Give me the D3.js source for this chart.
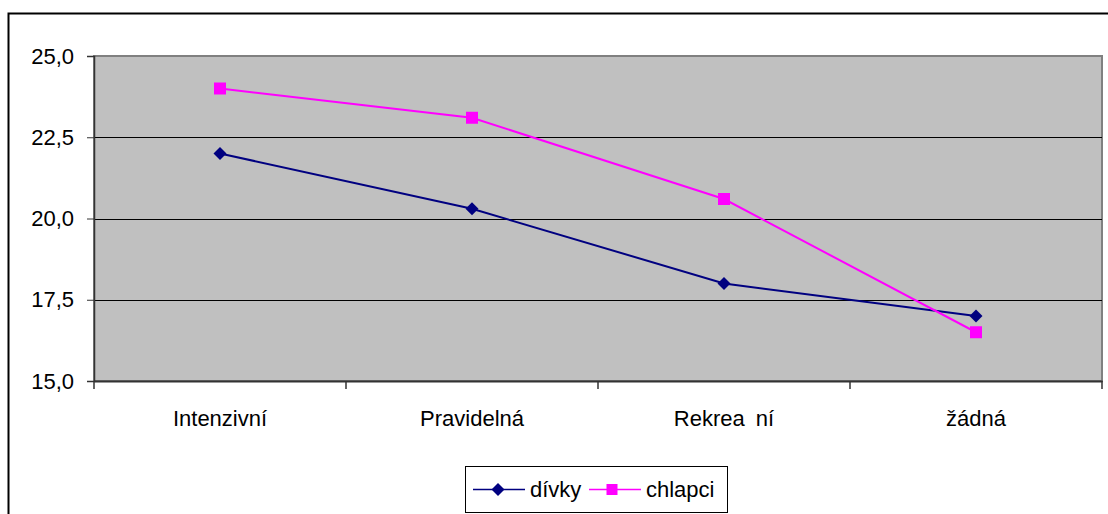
<!DOCTYPE html>
<html>
<head>
<meta charset="utf-8">
<script src="https://cdn.jsdelivr.net/npm/d3@7"></script>
<style>
  html, body { margin: 0; padding: 0; background: #fff; }
  svg { display: block; font-family: "Liberation Sans", Arial, sans-serif; }
</style>
</head>
<body>
<svg id="chart" width="1108" height="514"></svg>
<script>
// Kategorie pohybové aktivity a průměrné hodnoty
const categories = ["Intenzivní", "Pravidelná", "Rekrea\u2002ní", "žádná"];
const divky = [22.0, 20.3, 18.0, 17.0];
const chlapci = [24.0, 23.1, 20.6, 16.5];
const yTicks = [15, 17.5, 20, 22.5, 25];
const seriesNames = ["dívky", "chlapci"];

const FONT = "Liberation Sans, Arial, sans-serif";
const FS = 22;

const svg = d3.select("#chart");

// Vnější rámeček grafu
svg.append("rect")
  .attr("x", 8.5).attr("y", 13.5)
  .attr("width", 1120).attr("height", 520)
  .attr("fill", "#fff").attr("stroke", "#000").attr("stroke-width", 2);

const plot = { left: 94, right: 1102, top: 56, bottom: 381 };

const x = d3.scaleBand().domain(categories).range([plot.left, plot.right]).padding(0);
const y = d3.scaleLinear().domain([15, 25]).range([plot.bottom, plot.top]);
const fmt = v => d3.format(".1f")(v).replace(".", ",");

// Šedá plocha grafu
svg.append("rect")
  .attr("x", plot.left).attr("y", plot.top)
  .attr("width", plot.right - plot.left).attr("height", plot.bottom - plot.top)
  .attr("fill", "#c0c0c0").attr("stroke", "#808080").attr("stroke-width", 2);

// Vodorovné mřížky
svg.append("g").selectAll("line")
  .data(yTicks.filter(t => t > 15 && t < 25))
  .join("line")
  .attr("x1", plot.left).attr("x2", plot.right)
  .attr("y1", d => Math.round(y(d)) + 0.5).attr("y2", d => Math.round(y(d)) + 0.5)
  .attr("stroke", "#000").attr("stroke-width", 1);

// Osa Y
const yAxis = svg.append("g")
  .attr("transform", `translate(${plot.left},0)`)
  .call(d3.axisLeft(y).tickValues(yTicks).tickFormat(fmt).tickSizeOuter(0).tickSize(7).tickPadding(13));
yAxis.attr("font-size", FS).attr("font-family", FONT);
yAxis.select(".domain").attr("stroke", "#333").attr("stroke-width", 1.5);
yAxis.selectAll(".tick line").attr("stroke", "#333");
yAxis.selectAll("text").attr("fill", "#000");

// Osa X
const xAxis = svg.append("g")
  .attr("transform", `translate(0,${plot.bottom})`)
  .call(d3.axisBottom(x).tickSize(0).tickPadding(29));
xAxis.attr("font-size", FS).attr("font-family", FONT);
xAxis.select(".domain").attr("stroke", "#333").attr("stroke-width", 2);
xAxis.selectAll("text").attr("fill", "#000").style("white-space", "pre");

// Značky mezi kategoriemi
const bounds = categories.map(c => x(c)).concat([plot.right]);
svg.append("g").selectAll("line")
  .data(bounds)
  .join("line")
  .attr("x1", d => d).attr("x2", d => d)
  .attr("y1", plot.bottom).attr("y2", plot.bottom + 8)
  .attr("stroke", "#333").attr("stroke-width", 1.5);

const cx = c => x(c) + x.bandwidth() / 2;
const line = d3.line().x((d, i) => cx(categories[i])).y(d => y(d));
const diamond = d3.symbol(d3.symbolSquare, 84);

// Řada dívky
svg.append("path").datum(divky)
  .attr("d", line).attr("fill", "none")
  .attr("stroke", "#000080").attr("stroke-width", 2);
svg.append("g").selectAll("path")
  .data(divky).join("path")
  .attr("d", diamond)
  .attr("transform", (d, i) => `translate(${cx(categories[i])},${y(d)}) rotate(45)`)
  .attr("fill", "#000080");

// Řada chlapci
svg.append("path").datum(chlapci)
  .attr("d", line).attr("fill", "none")
  .attr("stroke", "#ff00ff").attr("stroke-width", 2);
svg.append("g").selectAll("rect")
  .data(chlapci).join("rect")
  .attr("x", (d, i) => cx(categories[i]) - 6)
  .attr("y", d => y(d) - 6)
  .attr("width", 12).attr("height", 12)
  .attr("fill", "#ff00ff");

// Legenda
const legend = svg.append("g").attr("font-family", FONT).attr("font-size", FS);
legend.append("rect")
  .attr("x", 465.5).attr("y", 466.5).attr("width", 262).attr("height", 46)
  .attr("fill", "#fff").attr("stroke", "#000").attr("stroke-width", 1);
const legendItems = [
  { name: seriesNames[0], color: "#000080", x0: 473, marker: "diamond" },
  { name: seriesNames[1], color: "#ff00ff", x0: 589, marker: "square" }
];
const ly = 489.5;
legendItems.forEach(it => {
  legend.append("line")
    .attr("x1", it.x0).attr("x2", it.x0 + 52)
    .attr("y1", ly).attr("y2", ly)
    .attr("stroke", it.color).attr("stroke-width", 1.5);
  if (it.marker === "diamond") {
    legend.append("path")
      .attr("d", d3.symbol(d3.symbolSquare, 84))
      .attr("transform", `translate(${it.x0 + 25},${ly}) rotate(45)`)
      .attr("fill", it.color);
  } else {
    legend.append("rect")
      .attr("x", it.x0 + 23 - 5.5).attr("y", ly - 5.5)
      .attr("width", 11).attr("height", 11)
      .attr("fill", it.color);
  }
  legend.append("text")
    .attr("x", it.x0 + 57).attr("y", ly)
    .attr("dy", "0.35em")
    .text(it.name);
});
</script>
</body>
</html>
